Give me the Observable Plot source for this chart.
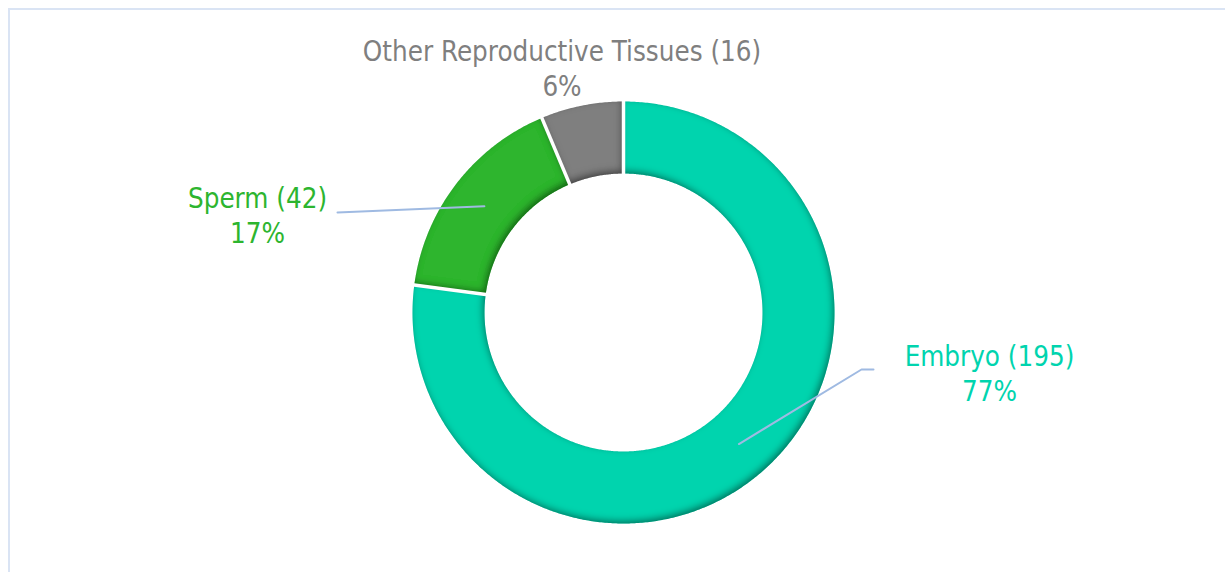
<!DOCTYPE html>
<html>
<head>
<meta charset="utf-8">
<script src="https://cdn.jsdelivr.net/npm/d3@7"></script>
<script src="https://cdn.jsdelivr.net/npm/@observablehq/plot@0.6"></script>
<style>
  html, body { margin: 0; padding: 0; background: #fff; overflow: hidden; }
  #wrap { position: relative; width: 1225px; height: 572px; }
  #frame { position: absolute; left: 8px; top: 8px; width: 1300px; height: 700px;
           border: 2px solid #DAE4F4; box-sizing: border-box; pointer-events: none; }
  #chart { position: absolute; left: 0; top: 0; }
</style>
</head>
<body>
<div id="wrap"><div id="chart"></div><div id="frame"></div></div>
<script>
// ---- data ----
const categories = ["Embryo", "Sperm", "Other Reproductive Tissues"];
const counts = [195, 42, 16];
const colors = ["#00D4AE", "#2DB52F", "#7F7F7F"];

// ---- layout (pixels) ----
const W = 1225, H = 572;
const CX = 623, CY = 312;       // donut centre
const RO = 211, RI = 139;       // outer / inner radius
// label centres and leader line bends (offsets from centre, px)
const labelPos = [[366, 59.5], [-366, -98.5], [-61.5, -245.5]];
const leaderEnds = [[[238, 57], [250, 57]], [[-286, -100]], []];

const total = d3.sum(counts);
const toRad = Math.PI / 180;

// slice rings as polygons in units of the outer radius, angle clockwise from 12 o'clock
const slices = [];
const mids = [];
const bounds = [];
let acc = 0;
categories.forEach((cat, i) => {
  const a0 = acc / total * 360, a1 = (acc + counts[i]) / total * 360;
  acc += counts[i];
  bounds.push(a0);
  mids.push((a0 + a1) / 2);
  const n = Math.max(2, Math.ceil((a1 - a0) / 0.5));
  const ri = RI / RO;
  for (let k = 0; k <= n; k++) {
    const a = (a0 + (a1 - a0) * k / n) * toRad;
    slices.push({cat, x: Math.sin(a), y: Math.cos(a)});
  }
  for (let k = n; k >= 0; k--) {
    const a = (a0 + (a1 - a0) * k / n) * toRad;
    slices.push({cat, x: ri * Math.sin(a), y: ri * Math.cos(a)});
  }
});

const seps = bounds.map(a => ({
  x1: (RI - 2) / RO * Math.sin(a * toRad), y1: (RI - 2) / RO * Math.cos(a * toRad),
  x2: (RO + 2) / RO * Math.sin(a * toRad), y2: (RO + 2) / RO * Math.cos(a * toRad)
}));

const labels = categories.map((cat, i) => ({
  cat,
  x: labelPos[i][0] / RO,
  y: -labelPos[i][1] / RO,
  text: `${cat} (${counts[i]})\n${Math.round(counts[i] / total * 100)}%`
}));

const leaders = [];
categories.forEach((cat, i) => {
  if (!leaderEnds[i].length) return;
  const rm = (RO + RI) / 2 / RO;
  const a = mids[i] * toRad;
  leaders.push({cat, x: rm * Math.sin(a), y: rm * Math.cos(a)});
  leaderEnds[i].forEach(([dx, dy]) => leaders.push({cat, x: dx / RO, y: -dy / RO}));
});

const font = "'DejaVu Sans Condensed', Tahoma, 'Liberation Sans', sans-serif";

const svg = Plot.plot({
  width: W, height: H,
  margin: 0,
  x: {domain: [-CX / RO, (W - CX) / RO], range: [0, W], axis: null},
  y: {domain: [-(H - CY) / RO, CY / RO], range: [H, 0], axis: null},
  color: {domain: categories, range: colors},
  style: {background: "transparent"},
  marks: [
    Plot.line(slices, {x: "x", y: "y", z: "cat", fill: "cat", stroke: "none"}),
    Plot.link(seps, {x1: "x1", y1: "y1", x2: "x2", y2: "y2", stroke: "#ffffff", strokeWidth: 3.5}),
    Plot.line(leaders, {x: "x", y: "y", z: "cat", stroke: "#9FBAE2", strokeWidth: 2}),
    Plot.text(labels, {x: "x", y: "y", text: "text", fill: "cat", fontSize: 27.5,
                       fontFamily: font, lineHeight: 1.27, textAnchor: "middle"})
  ]
});

// inner bevel shading like the original (applied to the slice paths)
try {
  const defs = d3.select(svg).insert("defs", ":first-child");
  const f = defs.append("filter").attr("id", "bevel")
    .attr("x", "-10%").attr("y", "-10%").attr("width", "120%").attr("height", "120%");
  f.append("feComponentTransfer").attr("in", "SourceAlpha").attr("result", "inv")
    .append("feFuncA").attr("type", "table").attr("tableValues", "1 0");
  f.append("feOffset").attr("in", "inv").attr("dx", -2).attr("dy", -3).attr("result", "off");
  f.append("feGaussianBlur").attr("in", "off").attr("stdDeviation", 3.5).attr("result", "blur");
  f.append("feFlood").attr("flood-color", "#000").attr("flood-opacity", 0.75).attr("result", "col");
  f.append("feComposite").attr("in", "col").attr("in2", "blur").attr("operator", "in").attr("result", "sh");
  f.append("feComposite").attr("in", "sh").attr("in2", "SourceAlpha").attr("operator", "in").attr("result", "inner");
  const m = f.append("feMerge");
  m.append("feMergeNode").attr("in", "SourceGraphic");
  m.append("feMergeNode").attr("in", "inner");
  const g = svg.querySelector("g[aria-label=line]");
  if (g) g.querySelectorAll("path").forEach(p => p.setAttribute("filter", "url(#bevel)"));
} catch (e) {}

document.getElementById("chart").appendChild(svg);
</script>
</body>
</html>
